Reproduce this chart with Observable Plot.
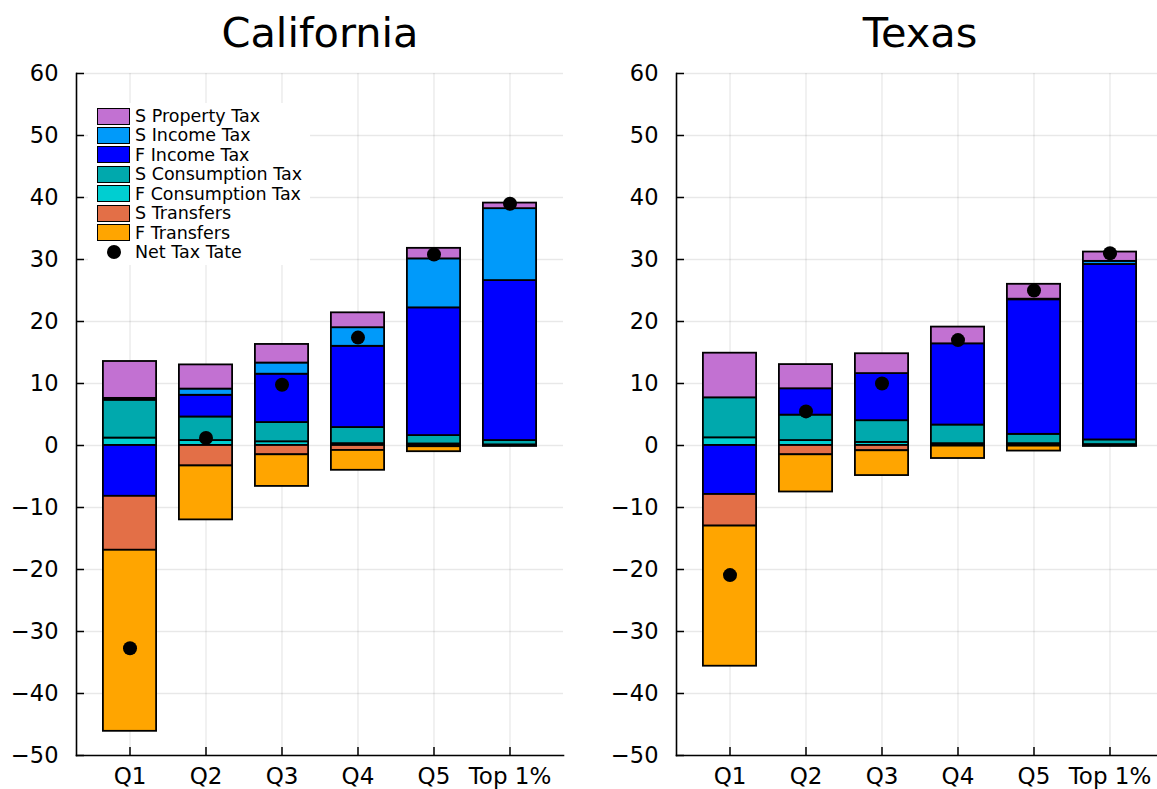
<!DOCTYPE html>
<html>
<head>
<meta charset="utf-8">
<script src="https://cdn.jsdelivr.net/npm/d3@7"></script>
<script src="https://cdn.jsdelivr.net/npm/@observablehq/plot@0.6"></script>
<style>
  html, body { margin: 0; padding: 0; background: #fff; overflow: hidden; }
  #wrap { position: relative; width: 1157px; height: 789px; overflow: hidden; font-family: "DejaVu Sans", sans-serif; color: #000; }
  .panel { position: absolute; top: 0; }
  .title { position: absolute; top: 12px; font-size: 41.5px; line-height: 1; white-space: nowrap; transform: translateX(-50%); }
  .legend { position: absolute; left: 88px; top: 103px; width: 222px; height: 162px; background: #fff; }
  .lrow { position: absolute; left: 0; height: 19px; display: flex; align-items: center; font-size: 17.5px; white-space: nowrap; }
  .sw { position: absolute; left: 9px; width: 31px; height: 15px; border: 1.5px solid #000; }
  .dotk { position: absolute; left: 19px; width: 14px; height: 14px; border-radius: 50%; background: #000; }
  .lt { position: absolute; left: 47px; }
</style>
</head>
<body>
<div id="wrap"></div>
<script>
// ---------- data ----------
const categories = ["Q1", "Q2", "Q3", "Q4", "Q5", "Top 1%"];
const seriesNames = ["S Property Tax", "S Income Tax", "F Income Tax", "S Consumption Tax", "F Consumption Tax", "S Transfers", "F Transfers"];
const seriesColors = ["#C271D2", "#009AFA", "#0000FF", "#00A9AD", "#00CED1", "#E36F47", "#FFA500"];
const stackOrder = ["F Consumption Tax", "S Consumption Tax", "F Income Tax", "S Income Tax", "S Property Tax", "S Transfers", "F Transfers"];
const yTicks = [-50, -40, -30, -20, -10, 0, 10, 20, 30, 40, 50, 60];

// California
const caFConsumption = [1.2, 0.8, 0.6, 0.3, 0.25, 0.1];
const caSConsumption = [6.1, 3.8, 3.1, 2.6, 1.35, 0.7];
const caFIncome      = [-8.2, 3.5, 7.8, 13.1, 20.6, 25.8];
const caSIncome      = [0.3, 1.0, 1.8, 3.0, 7.9, 11.6];
const caSProperty    = [5.95, 3.9, 3.0, 2.4, 1.7, 0.9];
const caSTransfers   = [-8.7, -3.3, -1.5, -0.8, -0.2, -0.05];
const caFTransfers   = [-29.2, -8.7, -5.1, -3.2, -0.8, -0.1];
const caNet          = [-32.7, 1.2, 9.8, 17.4, 30.8, 39.0];

// Texas
const txFConsumption = [1.24, 0.8, 0.5, 0.3, 0.3, 0.15];
const txSConsumption = [6.45, 4.1, 3.5, 3.0, 1.5, 0.75];
const txFIncome      = [-7.9, 4.25, 7.6, 13.1, 21.7, 28.3];
const txSIncome      = [0, 0, 0, 0, 0.1, 0.5];
const txSProperty    = [7.2, 3.9, 3.2, 2.7, 2.4, 1.5];
const txSTransfers   = [-5.1, -1.5, -0.85, -0.1, -0.1, -0.05];
const txFTransfers   = [-22.6, -6.0, -4.0, -2.0, -0.8, -0.1];
const txNet          = [-20.9, 5.5, 10.0, 17.0, 25.0, 31.0];

// ---------- build ----------
function buildRows(s) {
  const bySeries = {
    "F Consumption Tax": s.fCons, "S Consumption Tax": s.sCons, "F Income Tax": s.fInc,
    "S Income Tax": s.sInc, "S Property Tax": s.sProp, "S Transfers": s.sTrans, "F Transfers": s.fTrans
  };
  const rows = [];
  categories.forEach((c, i) => {
    stackOrder.forEach(name => rows.push({cat: c, series: name, value: bySeries[name][i]}));
  });
  return rows;
}

function panel(rows, net, width, marginLeft, marginRight) {
  const netRows = categories.map((c, i) => ({cat: c, net: net[i]}));
  return Plot.plot({
    width, height: 789,
    marginTop: 73, marginBottom: 34, marginLeft, marginRight,
    style: {fontFamily: "DejaVu Sans", fontSize: "23px", color: "#000", background: "transparent", overflow: "visible"},
    x: {domain: categories, paddingInner: 0.3, paddingOuter: 0.354, round: false, label: null, axis: null},
    y: {domain: [-50, 60], label: null, axis: null},
    color: {domain: seriesNames, range: seriesColors},
    marks: [
      Plot.gridY(yTicks, {stroke: "#000", strokeOpacity: 0.09, strokeWidth: 1.3}),
      Plot.gridX(categories, {stroke: "#000", strokeOpacity: 0.09, strokeWidth: 1.3}),
      Plot.barY(rows, Plot.stackY({x: "cat", y: "value", fill: "series", stroke: "#000", strokeWidth: 1.8, order: null})),
      Plot.dot(netRows, {x: "cat", y: "net", r: 7, fill: "#000", stroke: null}),
      Plot.axisY(yTicks, {tickSize: 0, tickPadding: 18, label: null, fontSize: 22.5}),
      Plot.axisY(yTicks, {tickSize: 8, dx: 8, tickFormat: () => "", label: null, strokeWidth: 1.5}),
      Plot.axisX(categories, {tickSize: 0, tickPadding: 12, label: null, fontSize: 23}),
      Plot.axisX(categories, {tickSize: 8, dy: -8, tickFormat: () => "", label: null, strokeWidth: 1.5}),
      Plot.frame({anchor: "left", stroke: "#000", strokeWidth: 1.6}),
      Plot.frame({anchor: "bottom", stroke: "#000", strokeWidth: 1.6})
    ]
  });
}

const wrap = document.getElementById("wrap");

const caRows = buildRows({fCons: caFConsumption, sCons: caSConsumption, fInc: caFIncome, sInc: caSIncome, sProp: caSProperty, sTrans: caSTransfers, fTrans: caFTransfers});
const txRows = buildRows({fCons: txFConsumption, sCons: txSConsumption, fInc: txFIncome, sInc: txSIncome, sProp: txSProperty, sTrans: txSTransfers, fTrans: txFTransfers});

const ca = panel(caRows, caNet, 578, 76, 15);
ca.classList.add("panel"); ca.style.left = "0px";
wrap.appendChild(ca);

const tx = panel(txRows, txNet, 587, 98, 2);
tx.classList.add("panel"); tx.style.left = "578px";
wrap.appendChild(tx);

function addTitle(text, cx) {
  const t = document.createElement("div");
  t.className = "title"; t.textContent = text; t.style.left = cx + "px";
  wrap.appendChild(t);
}
addTitle("California", 320);
addTitle("Texas", 920);

// legend
const lg = document.createElement("div");
lg.className = "legend";
const legendItems = seriesNames.map((n, i) => ({name: n, color: seriesColors[i]})).concat([{name: "Net Tax Tate", dot: true}]);
legendItems.forEach((it, i) => {
  const r = document.createElement("div");
  r.className = "lrow";
  r.style.top = (3.5 + 19.43 * i) + "px";
  r.style.width = "222px";
  const k = document.createElement("div");
  if (it.dot) { k.className = "dotk"; } else { k.className = "sw"; k.style.background = it.color; }
  const tx2 = document.createElement("span");
  tx2.className = "lt"; tx2.textContent = it.name;
  r.appendChild(k); r.appendChild(tx2);
  lg.appendChild(r);
});
wrap.appendChild(lg);
</script>
</body>
</html>
